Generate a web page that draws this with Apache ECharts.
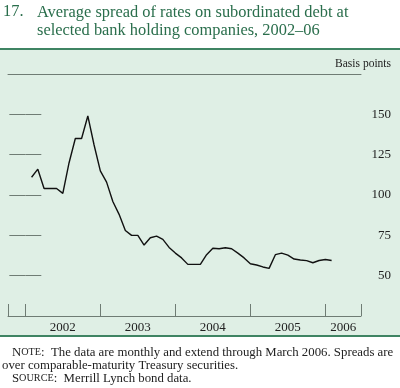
<!DOCTYPE html>
<html><head><meta charset="utf-8">
<script src="https://cdn.jsdelivr.net/npm/echarts@6/dist/echarts.min.js"></script>
<style>html,body{margin:0;padding:0;background:#fff}#c{width:400px;height:388px}</style>
</head><body><div id="c"></div>
<script>
// Monthly spread (basis points), Jan 2002 onward
const months = ['2002-01','2002-02','2002-03','2002-04','2002-05','2002-06','2002-07','2002-08','2002-09','2002-10','2002-11','2002-12',
 '2003-01','2003-02','2003-03','2003-04','2003-05','2003-06','2003-07','2003-08','2003-09','2003-10','2003-11','2003-12',
 '2004-01','2004-02','2004-03','2004-04','2004-05','2004-06','2004-07','2004-08','2004-09','2004-10','2004-11','2004-12',
 '2005-01','2005-02','2005-03','2005-04','2005-05','2005-06','2005-07','2005-08','2005-09','2005-10','2005-11','2005-12',
 '2006-01'];
const spread = [111,116,104,104,104,101,120,135,135,149,131,115,108,96,88,78,75,75,
 69,73.5,74.5,72.5,67.5,64,61,57,57,57,63,67,66.7,67.3,66.7,64,61,57.4,56.6,55.4,54.5,
 63,64,62.7,60.3,59.7,59.3,58,59.4,60,59.4];
const yearLabels = ['2002','2003','2004','2005','2006'];
const yTickValues = [50,75,100,125,150];

const FONT = '"Liberation Serif","Times New Roman",serif';
// month position: Jan 2002 point plotted at end of January (1)
const pts = spread.map((v,i)=>[i+1, v]);
const xMin = -2.77, xMax = 53.7;
const yearTicks = [0,12,24,36,48];
const yearLabelPos = [6,18,30,42,50.85];

const chart = echarts.init(document.getElementById('c'), null, {renderer:'canvas'});
const axisColor = '#6f7c74';
const nf = '12.8px '+FONT, sf = '10.2px '+FONT;
chart.setOption({
  backgroundColor:'#ffffff',
  animation:false,
  graphic:[
    {type:'rect', shape:{x:0,y:49,width:400,height:287}, style:{fill:'#dfefe5'}, z:-10},
    {type:'line', shape:{x1:0,y1:49,x2:400,y2:49}, style:{stroke:'#3f8463',lineWidth:2}, z:-9},
    {type:'line', shape:{x1:0,y1:336,x2:400,y2:336}, style:{stroke:'#3f8463',lineWidth:2}, z:-9},
    {type:'text', left:3, top:4, style:{text:'17.', font:'16.4px '+FONT, fill:'#2a6e4c'}},
    {type:'text', left:37, top:4, style:{text:'Average spread of rates on subordinated debt at\nselected bank holding companies, 2002–06', font:'16.4px '+FONT, fill:'#2a6e4c', lineHeight:18}},
    {type:'text', right:9, top:58, style:{text:'Basis points', font:'11.5px '+FONT, fill:'#222'}},
    {type:'text', left:12, top:346, style:{
      text:'{n|N}{s|OTE}{n|:  The data are monthly and extend through March 2006. Spreads are}',
      rich:{n:{font:nf, fill:'#222'}, s:{font:sf, fill:'#222'}}}},
    {type:'text', left:2, top:359, style:{text:'over comparable-maturity Treasury securities.', font:nf, fill:'#222'}},
    {type:'text', left:12, top:372, style:{
      text:'{n|S}{s|OURCE}{n|:  Merrill Lynch bond data.}',
      rich:{n:{font:nf, fill:'#222'}, s:{font:sf, fill:'#222'}}}}
  ],
  grid:{left:8, right:39, top:74, bottom:72, containLabel:false},
  xAxis:[
    {type:'value', position:'bottom', min:xMin, max:xMax,
     axisLine:{show:true, lineStyle:{color:axisColor, width:1}},
     axisTick:{show:true, inside:true, length:12, customValues:[xMin].concat(yearTicks).concat([xMax]), lineStyle:{color:axisColor}},
     axisLabel:{show:true, customValues:yearLabelPos, margin:5,
       formatter:(v)=>{const k=yearLabelPos.findIndex(p=>Math.abs(p-v)<0.01); return k>=0?yearLabels[k]:'';},
       fontFamily:FONT, fontSize:13, color:'#222'},
     splitLine:{show:false}},
    {type:'value', position:'top', min:xMin, max:xMax,
     axisLine:{show:true, lineStyle:{color:axisColor, width:1}},
     axisTick:{show:false}, axisLabel:{show:false}, splitLine:{show:false}}
  ],
  yAxis:[
    {type:'value', position:'right', min:25, max:175, interval:25,
     axisLine:{show:false},
     axisTick:{show:true, inside:true, length:16, customValues:yTickValues, lineStyle:{color:axisColor}},
     axisLabel:{show:true, customValues:yTickValues, align:'right', margin:30, fontFamily:FONT, fontSize:13, color:'#222'},
     splitLine:{show:false}},
    {type:'value', position:'left', min:25, max:175, interval:25,
     axisLine:{show:false},
     axisTick:{show:true, inside:true, length:16, customValues:yTickValues, lineStyle:{color:axisColor}},
     axisLabel:{show:false}, splitLine:{show:false}}
  ],
  series:[{type:'line', data:pts, xAxisIndex:0, yAxisIndex:0, symbol:'none', lineStyle:{color:'#111', width:1.4}}]
});
</script></body></html>
